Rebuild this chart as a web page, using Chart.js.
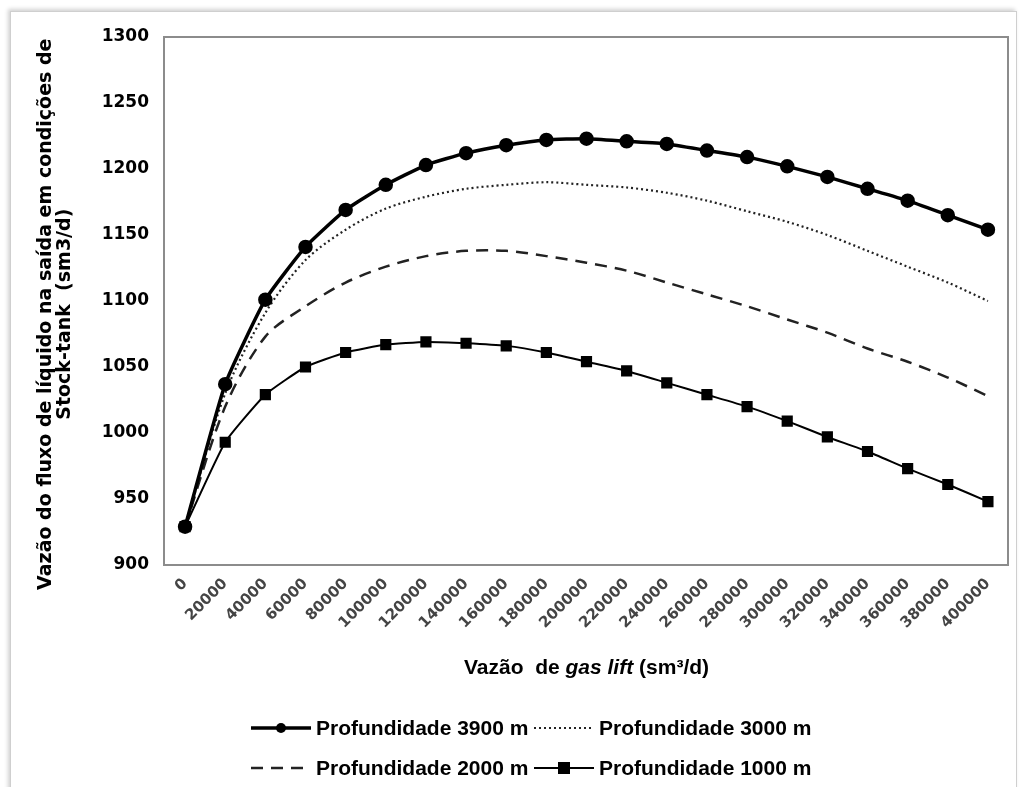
<!DOCTYPE html>
<html>
<head>
<meta charset="utf-8">
<script src="https://cdn.jsdelivr.net/npm/chart.js@4.4.1/dist/chart.umd.min.js"></script>
<style>
  body { margin: 0; background: #fff; }
  #wrap { position: relative; width: 1022px; height: 787px; overflow: hidden; background: #fff; }
  #frame { position: absolute; left: 10px; top: 11px; width: 1005px; height: 800px;
           border: 1px solid #cfcfcf; box-shadow: -2px -2px 4px rgba(0,0,0,0.18); }
  #chart { position: absolute; left: 0; top: 0; }
  #xtitle { position: absolute; left: 165px; width: 843px; top: 655px; text-align: center;
            font: bold 21px "Liberation Sans", Arial, sans-serif; white-space: pre; color: #000; }
  #legend { position: absolute; left: 250px; top: 716px; display: grid;
            grid-template-columns: 283px auto; row-gap: 16px;
            font: bold 21px "Liberation Sans", Arial, sans-serif; color: #000; }
  .item { display: flex; align-items: center; gap: 4px; height: 24px; }
</style>
</head>
<body>
<div id="wrap">
  <div id="frame"></div>
  <canvas id="chart" width="1022" height="787"></canvas>
  <div id="xtitle">Vazão  de <i>gas lift</i> (sm³/d)</div>
  <div id="legend"></div>
</div>
<script>
const vazaoGasLift = ['0', '20000', '40000', '60000', '80000', '100000', '120000', '140000',
  '160000', '180000', '200000', '220000', '240000', '260000', '280000', '300000',
  '320000', '340000', '360000', '380000', '400000'];

const prof3900 = [929, 1037, 1101, 1141, 1169, 1188, 1203, 1212, 1218, 1222, 1223,
  1221, 1219, 1214, 1209, 1202, 1194, 1185, 1176, 1165, 1154];
const prof3000 = [929, 1030, 1091, 1131, 1154, 1170, 1179, 1185, 1188, 1190, 1188,
  1186, 1182, 1176, 1168, 1160, 1150, 1138, 1126, 1114, 1100];
const prof2000 = [929, 1020, 1073, 1096, 1114, 1126, 1134, 1138, 1138, 1134, 1129,
  1123, 1114, 1105, 1096, 1086, 1076, 1064, 1054, 1042, 1028];
const prof1000 = [929, 993, 1029, 1050, 1061, 1067, 1069, 1068, 1066, 1061, 1054,
  1047, 1038, 1029, 1020, 1009, 997, 986, 973, 961, 948];

const yTicks = { min: 900, max: 1300, step: 50 };

// moldura do gráfico (área de plotagem)
const plotBox = {
  id: 'plotBox',
  afterDraw(chart) {
    const { ctx, chartArea: a } = chart;
    ctx.save();
    ctx.strokeStyle = '#8c8c8c';
    ctx.lineWidth = 2;
    ctx.strokeRect(a.left - 1, a.top, a.right - a.left + 1, a.bottom - a.top);
    ctx.restore();
  }
};

const ctx = document.getElementById('chart');

const chart = new Chart(ctx, {
  type: 'line',
  data: {
    labels: vazaoGasLift,
    datasets: [
      {
        label: 'Profundidade 3900 m',
        data: prof3900,
        borderColor: '#000',
        backgroundColor: '#000',
        borderWidth: 3.5,
        pointStyle: 'circle',
        pointRadius: 5.5,
        tension: 0.15
      },
      {
        label: 'Profundidade 3000 m',
        data: prof3000,
        borderColor: '#222',
        borderWidth: 2.2,
        borderDash: [2, 3],
        pointRadius: 0,
        tension: 0.3
      },
      {
        label: 'Profundidade 2000 m',
        data: prof2000,
        borderColor: '#222',
        borderWidth: 2.5,
        borderDash: [12, 8],
        pointRadius: 0,
        tension: 0.3
      },
      {
        label: 'Profundidade 1000 m',
        data: prof1000,
        borderColor: '#000',
        backgroundColor: '#000',
        borderWidth: 2,
        pointStyle: 'rect',
        pointRadius: 6.5,
        tension: 0.15
      }
    ]
  },
  options: {
    responsive: false,
    animation: false,
    events: [],
    layout: { padding: { top: 37, right: 14, bottom: 0, left: 0 } },
    plugins: {
      legend: { display: false },
      tooltip: { enabled: false }
    },
    scales: {
      x: {
        offset: true,
        grid: { display: false, drawTicks: false },
        border: { display: false },
        ticks: {
          autoSkip: false,
          minRotation: 45,
          maxRotation: 45,
          padding: 10,
          color: '#444',
          font: { family: 'DejaVu Sans', size: 15, weight: 'bold' }
        },
        afterFit(scale) { scale.height = 222; }
      },
      y: {
        min: yTicks.min,
        max: yTicks.max,
        grid: { display: false, drawTicks: false },
        border: { display: false },
        ticks: {
          stepSize: yTicks.step,
          padding: 16,
          color: '#000',
          font: { family: 'DejaVu Sans', size: 17, weight: 'bold' },
          callback: v => String(v)
        },
        title: {
          display: true,
          text: ['Vazão do fluxo de líquido na saída em condições de    ', 'Stock-tank  (sm3/d)    '],
          color: '#000',
          padding: { top: 36, bottom: 0 },
          font: { family: 'DejaVu Sans', size: 19, weight: 'bold', lineHeight: 1.02 }
        },
        afterFit(scale) { scale.width = 165; }
      }
    }
  },
  plugins: [plotBox]
});

// legenda em HTML, montada a partir dos datasets
const legendOrder = [0, 1, 2, 3];
const legend = document.getElementById('legend');
legendOrder.forEach(i => {
  const ds = chart.data.datasets[i];
  const dash = ds.borderDash ? ds.borderDash.join(' ') : '';
  let marker = '';
  if (ds.pointRadius && ds.pointStyle === 'circle') {
    marker = '<circle cx="31" cy="10" r="5" fill="#000"/>';
  } else if (ds.pointRadius && ds.pointStyle === 'rect') {
    marker = '<rect x="25" y="4" width="12" height="12" fill="#000"/>';
  }
  const el = document.createElement('div');
  el.className = 'item';
  el.innerHTML =
    '<svg width="62" height="20"><line x1="1" y1="10" x2="61" y2="10" stroke="' + ds.borderColor +
    '" stroke-width="' + ds.borderWidth + '" stroke-dasharray="' + dash + '"/>' + marker + '</svg>' +
    '<span>' + ds.label + '</span>';
  legend.appendChild(el);
});
</script>
</body>
</html>
